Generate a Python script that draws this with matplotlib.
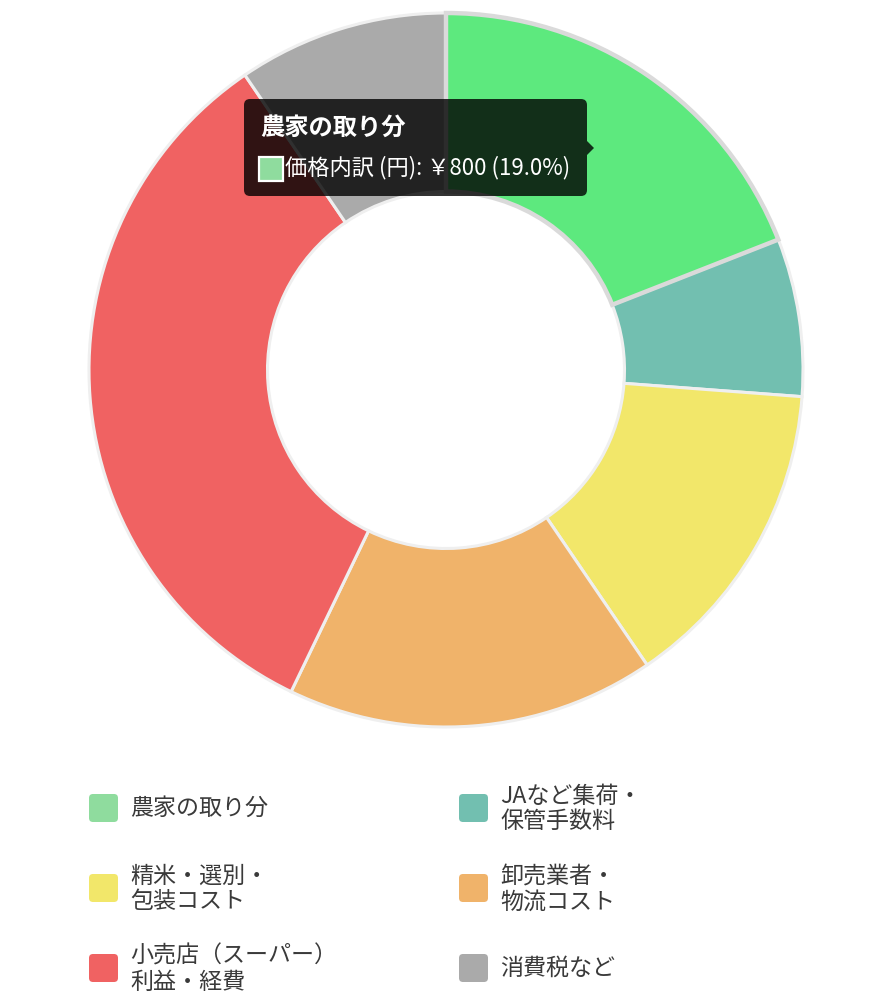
import matplotlib
matplotlib.use("Agg")
import matplotlib.pyplot as plt
from matplotlib.patches import FancyBboxPatch, Polygon

FONT = ['Noto Sans CJK JP', 'DejaVu Sans']
plt.rcParams['font.family'] = FONT

# ---- data ----
categories = ["農家の取り分", "JAなど集荷・\n保管手数料", "精米・選別・\n包装コスト",
              "卸売業者・\n物流コスト", "小売店（スーパー）\n利益・経費", "消費税など"]
values = [800, 300, 600, 700, 1400, 400]
colors = ["#8FDC9E", "#72BFB0", "#F2E76A", "#F0B36A", "#F06262", "#AAAAAA"]
hover_color = "#5DE97E"
series_name = "価格内訳 (円)"
hovered = 0

W, H = 876, 1000
fig = plt.figure(figsize=(W / 100, H / 100), dpi=100)
ax = fig.add_axes([0, 0, 1, 1])


def py(y):
    return H - y


cx, cy, R = 446, 370, 357
slice_colors = list(colors)
slice_colors[hovered] = hover_color
wedges, _ = ax.pie(values, colors=slice_colors, startangle=90, counterclock=False,
                   radius=R, center=(cx, py(cy)),
                   wedgeprops=dict(width=R * 0.5, edgecolor="#EFEFEF", linewidth=2.2))
wedges[hovered].set_edgecolor("#DADADA")
wedges[hovered].set_linewidth(3.2)
wedges[hovered].set_zorder(5)

ax.set_xlim(0, W)
ax.set_ylim(0, H)
ax.set_aspect('equal')
ax.axis('off')

# ---- tooltip ----
total = sum(values)
pct = values[hovered] / total * 100
tx0, ty0, tx1, ty1 = 244, 99, 587, 196
tip = FancyBboxPatch((tx0, py(ty1)), tx1 - tx0, ty1 - ty0,
                     boxstyle="round,pad=0,rounding_size=6",
                     facecolor=(0, 0, 0, 0.8), edgecolor="none", zorder=10)
ax.add_patch(tip)
ax.add_patch(Polygon([(tx1, py(141)), (tx1 + 7, py(148)), (tx1, py(155))],
                     closed=True, facecolor=(0, 0, 0, 0.8), edgecolor="none", zorder=10))
ax.text(260, py(128), categories[hovered].replace("\n", ""), color="white",
        fontsize=17.5, fontweight="bold", va="center", ha="left", zorder=11, family=FONT)
ax.add_patch(FancyBboxPatch((259, py(181)), 24, 24, boxstyle="square,pad=0",
                            facecolor=colors[hovered], edgecolor="white", linewidth=1.6, zorder=11))
ax.text(285, py(168), f"{series_name}: ￥{values[hovered]:,} ({pct:.1f}%)", color="white",
        fontsize=16, va="center", ha="left", zorder=11, family=FONT)

# ---- legend ----
col_x = [89, 459]
row_y = [808, 888, 968]
for i, (lab, col) in enumerate(zip(categories, colors)):
    r, c = divmod(i, 2)
    bx, by = col_x[c], row_y[r]
    ax.add_patch(FancyBboxPatch((bx, py(by + 14)), 29, 28,
                                boxstyle="round,pad=0,rounding_size=4",
                                facecolor=col, edgecolor="none", zorder=3))
    lines = lab.split("\n")
    if len(lines) == 1:
        ax.text(bx + 41, py(by), lines[0], fontsize=16.6, color="#3A3A3A",
                va="center", ha="left", family=FONT)
    else:
        ax.text(bx + 41, py(by - 12), lines[0], fontsize=16.6, color="#3A3A3A",
                va="center", ha="left", family=FONT)
        ax.text(bx + 41, py(by + 14), lines[1], fontsize=16.6, color="#3A3A3A",
                va="center", ha="left", family=FONT)

fig.savefig("out.png", dpi=100, facecolor="white")
